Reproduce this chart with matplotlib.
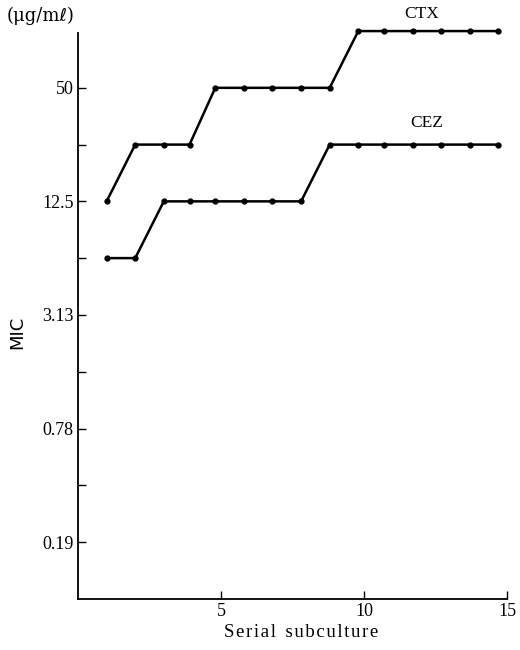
import matplotlib.pyplot as plt

# MIC values (ug/ml) per serial subculture
passage = [1.0, 2.0, 3.0, 3.9, 4.8, 5.8, 6.8, 7.8, 8.8, 9.8, 10.7, 11.7, 12.7, 13.7, 14.7]
ctx = [12.5, 25, 25, 25, 50, 50, 50, 50, 50, 100, 100, 100, 100, 100, 100]
cez = [6.25, 6.25, 12.5, 12.5, 12.5, 12.5, 12.5, 12.5, 25, 25, 25, 25, 25, 25, 25]

ytick_vals = [0.195, 0.39, 0.78, 1.56, 3.13, 6.25, 12.5, 25, 50]
ytick_labels = ['0.19', '', '0.78', '', '3.13', '', '12.5', '', '50']

plt.rcParams['font.family'] = ['Liberation Serif', 'DejaVu Serif']

fig = plt.figure(figsize=(5.2, 6.5), dpi=100)
ax = fig.add_axes([0.15, 0.079, 0.825, 0.87])

for vals in (ctx, cez):
    ax.plot(passage, vals, color='black', lw=1.8, marker='o', ms=3.5, clip_on=False)

ax.set_yscale('log', base=2)
ax.set_ylim(0.0977, 97.5)
ax.set_xlim(0, 15)
ax.set_yticks(ytick_vals)
ax.set_yticklabels(ytick_labels, fontsize=13)
ax.minorticks_off()
ax.set_xticks([5, 10, 15])
ax.set_xticklabels(['5', '10', '15'], fontsize=13)
ax.tick_params(direction='in', length=6, width=1, pad=3)

for s in ('top', 'right'):
    ax.spines[s].set_visible(False)
ax.spines['left'].set_linewidth(1.3)
ax.spines['bottom'].set_linewidth(1.3)

ax.text(12.0, 112, 'CTX', fontsize=12.5, ha='center', va='bottom')
ax.text(12.2, 29.5, 'CEZ', fontsize=12.5, ha='center', va='bottom')
fig.text(0.012, 0.975, '(\u03bcg/m\u2113)', fontsize=13, va='center', ha='left',
         family=['DejaVu Serif', 'DejaVu Sans'])

ax.set_ylabel('MIC', fontsize=13, family='DejaVu Sans')
ax.yaxis.set_label_coords(-0.12, 0.47)
sp = '\u200a'
ax.set_xlabel(sp.join('Serial') + '  ' + sp.join('subculture'), fontsize=13.5)
ax.xaxis.set_label_coords(0.52, -0.045)

fig.savefig('out.png', dpi=100)
